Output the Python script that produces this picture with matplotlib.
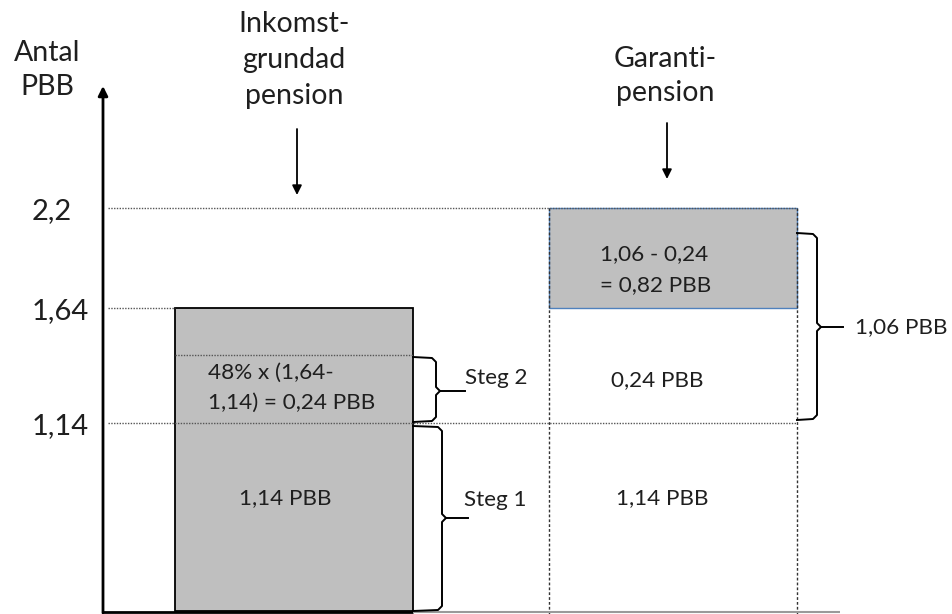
import numpy as np
import matplotlib
matplotlib.use("Agg")
import matplotlib.pyplot as plt
from matplotlib.patches import Rectangle

# ---------------- data ----------------
levels = [1.14, 1.64, 2.2]
level_labels = ["1,14", "1,64", "2,2"]
steg1 = 1.14                 # Steg 1
steg2 = 0.24                 # 48% x (1,64 - 1,14)
inkomst_total = 1.64
garanti_ceiling = 2.2
garanti_total = 1.06         # 2,2 - 1,14
garanti_net = 0.82           # 1,06 - 0,24
headers = ["Inkomst-\ngrundad\npension", "Garanti-\npension"]
ylabel = "Antal\nPBB"

# ------------- schematic (not to scale) vertical scale -------------
_V = np.array([-10, 0, 1.14, 1.38, 1.64, 2.2, 10])
_P = np.array([611 + 10 * 165, 611, 423, 355, 308, 208, 208 - 7.8 * 179])  # px from top
W, H = 952, 614


def pv(v):
    return np.interp(v, _V, _P)


def fwd(v):
    return H - np.interp(v, _V, _P)


def inv(h):
    return np.interp(H - np.asarray(h), _P[::-1], _V[::-1])


plt.rcParams['font.family'] = ['Lato', 'DejaVu Sans']
fig = plt.figure(figsize=(W / 100, H / 100), dpi=100)
ax = fig.add_axes([0, 0, 1, 1])
ax.set_yscale('function', functions=(fwd, inv))
ax.set_xlim(0, W)
ax.set_ylim(float(inv(0)), float(inv(H)))
ax.axis('off')

lay = fig.add_axes([0, 0, 1, 1], zorder=5)
lay.set_xlim(0, W)
lay.set_ylim(H, 0)
lay.axis('off')
lay.patch.set_alpha(0)

txt = '#1f1f1f'
dot = dict(color='#555555', lw=1.0, linestyle=(0, (1, 1)))
gray = '#BFBFBF'

# x layout
ax_x = 103
lx0, lx1 = 175, 413
rx0, rx1 = 549, 797

# Inkomstgrundad pension bar
ax.add_patch(Rectangle((lx0, 0), lx1 - lx0, inkomst_total, facecolor=gray,
                       edgecolor='black', lw=1.3, zorder=2))
ax.hlines(steg1 + steg2, lx0, lx1, zorder=3, **dot)

# Garantipension column
ax.add_patch(Rectangle((rx0, inkomst_total), rx1 - rx0, garanti_ceiling - inkomst_total,
                       facecolor=gray, edgecolor='#4F81BD', lw=1.0, zorder=2))
ax.vlines([rx0, rx1], float(inv(0)), garanti_ceiling, color='#333333', lw=1.0,
          linestyle=(0, (2, 1.5)), zorder=3)

# level guide lines
ax.hlines(garanti_ceiling, ax_x + 5, rx1, zorder=4, **dot)
ax.hlines(inkomst_total, ax_x + 5, lx0, zorder=4, **dot)
ax.hlines(steg1, ax_x + 5, rx1, zorder=4, **dot)

# level labels
for v, lab in zip(levels, level_labels):
    lay.text(32, pv(v) + 3, lab, fontsize=21, color=txt, ha='left', va='center')

# bottom line
lay.plot([ax_x, lx1], [612, 612], color='black', lw=2, solid_capstyle='butt')
lay.plot([lx1, 840], [612, 612], color='#9a9a9a', lw=1.5, solid_capstyle='butt')

# y axis arrow
lay.annotate('', xy=(ax_x, 86), xytext=(ax_x, 613),
             arrowprops=dict(arrowstyle='-|>', lw=2, color='black', mutation_scale=14,
                             shrinkA=0, shrinkB=0))
for i, line in enumerate(ylabel.split('\n')):
    lay.text(47, 61 + 34 * i, line, fontsize=20.5, color=txt, ha='center', va='baseline')

# headers
h0 = headers[0].split('\n')
for i, line in enumerate(h0):
    lay.text(294, 32 + 36 * i, line, fontsize=20.5, color=txt, ha='center', va='baseline')
h1 = headers[1].split('\n')
for i, line in enumerate(h1):
    lay.text(665, 67 + 34 * i, line, fontsize=20.5, color=txt, ha='center', va='baseline')
lay.annotate('', xy=(297, 195), xytext=(297, 129),
             arrowprops=dict(arrowstyle='-|>', lw=1.3, color='black', mutation_scale=14,
                             shrinkA=0, shrinkB=0))
lay.annotate('', xy=(667, 179), xytext=(667, 123),
             arrowprops=dict(arrowstyle='-|>', lw=1.3, color='black', mutation_scale=14,
                             shrinkA=0, shrinkB=0))


def brace(x0, xv, xt, ytop, ybot, ymid):
    xs = [x0, xv - 4, xv, xv, xv + 4, xv, xv, xv - 4, x0]
    ys = [ytop, ytop + 1, ytop + 5, ymid - 4, ymid, ymid + 4, ybot - 5, ybot - 1, ybot]
    lay.plot(xs, ys, color='black', lw=1.4, solid_joinstyle='round')
    lay.plot([xv + 4, xt], [ymid, ymid], color='black', lw=1.4)


brace(lx1, 436, 465, pv(steg1 + steg2) + 2, pv(steg1) - 1, 391)
brace(lx1, 442, 468, pv(steg1) + 3, pv(0), 518)
brace(rx1, 817, 843, pv(garanti_ceiling) + 25, pv(steg1) - 3, 327)

# inner labels
fs = 16.2
lay.text(285, 498, "1,14 PBB", fontsize=fs, color=txt, ha='center', va='center')
lay.text(662, 498, "1,14 PBB", fontsize=fs, color=txt, ha='center', va='center')
lay.text(208, 373, "48% x (1,64-", fontsize=fs, color=txt, ha='left', va='center')
lay.text(208, 403, "1,14) = 0,24 PBB", fontsize=fs, color=txt, ha='left', va='center')
lay.text(465, 378, "Steg 2", fontsize=fs, color=txt, ha='left', va='center')
lay.text(464, 500, "Steg 1", fontsize=fs, color=txt, ha='left', va='center')
lay.text(600, 254, "1,06 - 0,24", fontsize=fs, color=txt, ha='left', va='center')
lay.text(600, 285, "= 0,82 PBB", fontsize=fs, color=txt, ha='left', va='center')
lay.text(657, 380, "0,24 PBB", fontsize=fs, color=txt, ha='center', va='center')
lay.text(855, 327, "1,06 PBB", fontsize=fs, color=txt, ha='left', va='center')

fig.savefig('out.png', dpi=100)
